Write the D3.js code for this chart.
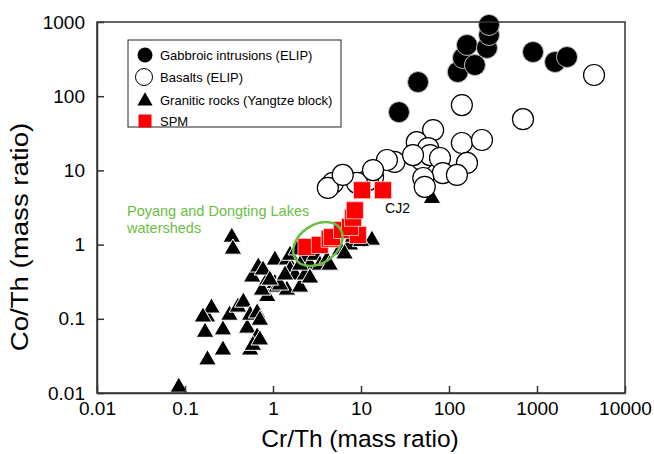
<!DOCTYPE html>
<html><head><meta charset="utf-8">
<script src="https://cdn.jsdelivr.net/npm/d3@7"></script>
<style>body{margin:0;background:#fff}svg{display:block}text{font-family:"Liberation Sans",Arial,sans-serif}</style>
</head><body><div id="chart"></div>
<script>
const xTicks=[0.01,0.1,1,10,100,1000,10000];
const yTicks=[0.01,0.1,1,10,100,1000];
const gabbroic=[[27,61],[44.5,155],[126,212],[144,327],[160,490],[197,263],[270,447],[285,668],[285,912],[901,394],[1603,289],[2193,337]];
const basalts=[[4446,193],[140,76],[693,49],[66,35],[43,24],[58,20],[140,23.4],[237,25.7],[49,13.8],[61,16.1],[79,14.7],[160,12.6],[85,9.2],[123,8.7],[24,13],[19.7,13.8],[51,7.9],[53,6],[13.7,8.1],[12,7.4],[4.8,6.8],[4.2,5.8],[9,6.8],[6.2,8.7],[13.7,10.1],[39,16.1]];
const granitic=[[0.085,0.012],[0.34,1.26],[0.35,0.87],[0.18,0.028],[0.27,0.038],[0.55,0.038],[0.169,0.066],[0.27,0.071],[0.51,0.075],[0.66,0.057],[0.59,0.044],[0.71,0.052],[0.178,0.106],[0.20,0.14],[0.32,0.112],[0.40,0.144],[0.46,0.168],[0.55,0.112],[0.66,0.12],[0.71,0.096],[0.16,0.106],[0.86,0.2],[1.05,0.3],[0.58,0.366],[0.68,0.50],[0.75,0.244],[0.86,0.333],[1.05,0.62],[1.11,0.268],[1.44,0.62],[1.44,0.244],[2.03,0.268],[0.77,0.455],[1.2,0.286],[0.92,0.333],[1.56,0.72],[1.87,0.85],[2.31,0.66],[2.63,0.53],[3.0,0.72],[3.42,0.53],[4.1,0.62],[4.4,0.53],[5.8,0.85],[7.5,0.99],[8.1,1.26],[13.3,1.15],[64,4.2],[1.56,0.455],[1.78,0.39],[2.31,0.39],[1.37,0.39],[2.03,0.53],[2.63,0.355],[10,1.1],[6.5,0.75]];
const spm=[[2.4,0.93],[3.4,0.99],[4.4,1.2],[4.7,1.26],[6.1,1.57],[9.2,1.35],[7.5,1.73],[8.1,2.3],[8.5,2.9],[10.3,5.4],[17.8,5.4]];
const legendLabels=["Gabbroic intrusions (ELIP)","Basalts (ELIP)","Granitic rocks (Yangtze block)","SPM"];
const annotLines=["Poyang and Dongting Lakes","watersheds"];
const cj2=[17.8,5.4];
const ellipseCenter=[3.24,1.02];

const W=654,H=454;
const svg=d3.select("#chart").append("svg").attr("width",W).attr("height",H);
const x=d3.scaleLog().domain([0.01,10000]).range([97,625]);
const y=d3.scaleLog().domain([0.01,1000]).range([393,22]);
const fmt=d=>String(d);

// marks
const tri=d3.symbol().type(d3.symbolTriangle).size(135);
svg.append("g").selectAll("path").data(granitic).join("path")
 .attr("d",tri).attr("transform",d=>`translate(${x(d[0])},${y(d[1])})`)
 .attr("fill","#000").attr("stroke","#fff").attr("stroke-width",1);
svg.append("g").selectAll("circle").data(basalts).join("circle")
 .attr("cx",d=>x(d[0])).attr("cy",d=>y(d[1])).attr("r",10.5)
 .attr("fill","#fff").attr("stroke","#000").attr("stroke-width",1.2);
svg.append("g").selectAll("circle").data(gabbroic).join("circle")
 .attr("cx",d=>x(d[0])).attr("cy",d=>y(d[1])).attr("r",10.5)
 .attr("fill","#000").attr("stroke","#bbb").attr("stroke-width",1);
svg.append("g").selectAll("rect").data(spm).join("rect")
 .attr("x",d=>x(d[0])-8.5).attr("y",d=>y(d[1])-8.5).attr("width",17).attr("height",17)
 .attr("fill","#f00").attr("stroke","#ffd0d0").attr("stroke-width",0.8);

// ellipse
svg.append("ellipse").attr("cx",0).attr("cy",0).attr("rx",27).attr("ry",19)
 .attr("transform",`translate(${x(ellipseCenter[0])},${y(ellipseCenter[1])}) rotate(-35)`)
 .attr("fill","none").attr("stroke","#6cbd45").attr("stroke-width",2.5);

// annotations
svg.append("text").attr("x",x(cj2[0])+2).attr("y",y(cj2[1])+23).attr("font-size",14).attr("fill","#000").text("CJ2");
svg.append("g").selectAll("text").data(annotLines).join("text")
 .attr("x",127).attr("y",(d,i)=>216+i*17).attr("font-size",14.5).attr("fill","#6cbd45").text(d=>d);

// frame
svg.append("rect").attr("x",97).attr("y",22).attr("width",528).attr("height",371)
 .attr("fill","none").attr("stroke","#333").attr("stroke-width",1.5);

// axes
const gx=svg.append("g").attr("transform","translate(0,393)")
 .call(d3.axisBottom(x).tickValues(xTicks).tickFormat(fmt).tickSizeInner(-7).tickSizeOuter(0).tickPadding(9));
const gy=svg.append("g").attr("transform","translate(97,0)")
 .call(d3.axisLeft(y).tickValues(yTicks).tickFormat(fmt).tickSizeInner(-7).tickSizeOuter(0).tickPadding(12));
[gx,gy].forEach(g=>{g.select(".domain").attr("stroke","#333").attr("stroke-width",1.5);
 g.selectAll(".tick line").attr("stroke","#333").attr("stroke-width",1.5);
 g.selectAll("text").attr("font-size",19).attr("fill","#000").attr("font-family","Liberation Sans, Arial, sans-serif");});

svg.append("text").attr("x",360).attr("y",447).attr("text-anchor","middle").attr("font-size",24.5).text("Cr/Th (mass ratio)");
svg.append("text").attr("transform","translate(28,237) rotate(-90) scale(1.15,1)").attr("text-anchor","middle").attr("font-size",24).text("Co/Th (mass ratio)");

// legend
const lg=svg.append("g");
lg.append("rect").attr("x",128).attr("y",40).attr("width",213).attr("height",87).attr("fill","#fff").attr("stroke","#222").attr("stroke-width",1);
const rowY=[55,77,100,121];
const mx=145;
lg.append("circle").attr("cx",mx).attr("cy",rowY[0]).attr("r",7.5).attr("fill","#000");
lg.append("circle").attr("cx",mx-1).attr("cy",rowY[1]).attr("r",8.5).attr("fill","#fff").attr("stroke","#000").attr("stroke-width",1);
lg.append("path").attr("d",d3.symbol().type(d3.symbolTriangle).size(100)).attr("transform",`translate(${mx},${rowY[2]+1})`).attr("fill","#000");
lg.append("rect").attr("x",mx-6.5).attr("y",rowY[3]-6.5).attr("width",13).attr("height",13).attr("fill","#f00");
lg.selectAll("text.l").data(legendLabels).join("text").attr("class","l")
 .attr("x",160).attr("y",(d,i)=>rowY[i]+4.5).attr("font-size",13).attr("fill","#000").text(d=>d);
</script></body></html>
